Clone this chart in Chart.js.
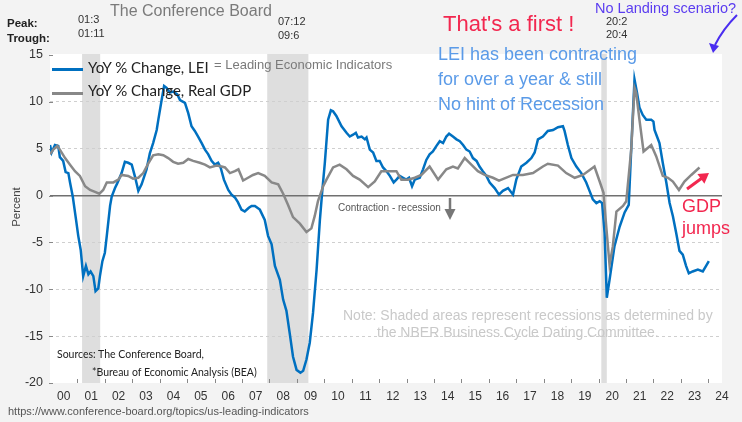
<!DOCTYPE html>
<html>
<head>
<meta charset="utf-8">
<script src="https://cdn.jsdelivr.net/npm/chart.js@4.4.1/dist/chart.umd.min.js"></script>
<style>
  body { margin: 0; background: #f3f3f3; }
  #wrap { position: relative; width: 742px; height: 422px; overflow: hidden; font-family: "Liberation Sans", Arial, sans-serif; }
  #wrap canvas { position: absolute; left: 0; top: 0; }
  .t { position: absolute; white-space: nowrap; line-height: 1; }
  .cal { font-family: Lato, "Open Sans", sans-serif; }
  .key { position: absolute; left: 52px; width: 31px; height: 3px; }
  svg { position: absolute; left: 0; top: 0; pointer-events: none; }
</style>
</head>
<body>
<div id="wrap">
  <canvas id="chart" width="742" height="422"></canvas>

  <div class="t" style="left:110px;top:3px;font-size:16px;color:#7a7a7a">The Conference Board</div>
  <div class="t" style="left:7px;top:18px;font-size:11.5px;font-weight:bold;color:#222">Peak:</div>
  <div class="t" style="left:7px;top:33px;font-size:11.5px;font-weight:bold;color:#222">Trough:</div>
  <div class="t" style="left:78px;top:13.5px;font-size:11px;color:#333">01:3</div>
  <div class="t" style="left:78px;top:28px;font-size:11px;color:#333">01:11</div>
  <div class="t" style="left:278px;top:15.5px;font-size:11px;color:#333">07:12</div>
  <div class="t" style="left:278px;top:29.5px;font-size:11px;color:#333">09:6</div>
  <div class="t" style="left:606px;top:15.5px;font-size:11px;color:#333">20:2</div>
  <div class="t" style="left:606px;top:28.5px;font-size:11px;color:#333">20:4</div>

  <div class="t" style="left:443px;top:13px;font-size:22px;color:#f2274f">That's a first !</div>
  <div class="t" style="left:438px;top:44.5px;font-size:18px;color:#5b9be8">LEI has been contracting</div>
  <div class="t" style="left:438px;top:69.5px;font-size:18px;color:#5b9be8">for over a year &amp; still</div>
  <div class="t" style="left:438px;top:94.5px;font-size:18px;color:#5b9be8">No hint of Recession</div>
  <div class="t" style="left:595px;top:0.5px;font-size:14.5px;color:#5a3cf0">No Landing scenario?</div>

  <div class="key" style="top:68px;background:#0070c0"></div>
  <div class="t cal" style="left:88px;top:59.5px;font-size:15px;color:#222">YoY % Change, LEI</div>
  <div class="key" style="top:92px;background:#888"></div>
  <div class="t cal" style="left:88px;top:82.5px;font-size:15px;color:#222">YoY % Change, Real GDP</div>
  <div class="t" style="left:214px;top:58px;font-size:13px;color:#7a7a7a">= Leading Economic Indicators</div>

  <div class="t" style="left:338px;top:203px;font-size:10px;color:#555">Contraction - recession</div>
  <div class="t" style="left:682px;top:196.5px;font-size:18px;color:#f2274f">GDP</div>
  <div class="t" style="left:682px;top:219px;font-size:18px;color:#f2274f">jumps</div>

  <div class="t" style="left:343px;top:307.5px;font-size:14px;color:#c9c9c9">Note: Shaded areas represent recessions as determined by</div>
  <div class="t" style="left:377px;top:324.5px;font-size:14px;color:#c9c9c9">the NBER Business Cycle Dating Committee.</div>

  <div class="t cal" style="left:57px;top:349px;font-size:10.5px;color:#222">Sources: The Conference Board,</div>
  <div class="t cal" style="left:92px;top:367px;font-size:10.5px;color:#222">*Bureau of Economic Analysis (BEA)</div>
  <div class="t" style="left:8px;top:405.5px;font-size:11px;color:#555">https://www.conference-board.org/topics/us-leading-indicators</div>
  <div class="t" style="left:17px;top:207px;transform:translate(-50%,-50%) rotate(-90deg);font-size:11.5px;color:#444">Percent</div>

  <svg width="742" height="422">
    <path d="M737,15 Q723,29 715,45" fill="none" stroke="#4a2df0" stroke-width="2"/>
    <polygon points="713,53 709,43 719,46" fill="#4a2df0"/>
    <line x1="687" y1="189" x2="702" y2="178" stroke="#f2274f" stroke-width="3"/>
    <polygon points="709,173 704.4,183.8 697.4,174" fill="#f2274f"/>
    <line x1="450" y1="198" x2="450" y2="211" stroke="#777" stroke-width="2.5"/>
    <polygon points="450,220 444.5,209 455.5,209" fill="#777"/>
  </svg>
</div>

<script>
// YoY % change, LEI (decimal year, percent)
const leiT = [2000.00, 2000.06, 2000.18, 2000.30, 2000.36, 2000.48, 2000.57, 2000.67, 2000.73, 2000.83,
  2000.95, 2001.03, 2001.12, 2001.21, 2001.31, 2001.40, 2001.48, 2001.58, 2001.66, 2001.76,
  2001.82, 2001.91, 2002.00, 2002.07, 2002.19, 2002.25, 2002.37, 2002.45, 2002.61, 2002.73,
  2002.85, 2002.98, 2003.10, 2003.22, 2003.34, 2003.52, 2003.64, 2003.76, 2003.89, 2003.95,
  2004.07, 2004.16, 2004.25, 2004.37, 2004.49, 2004.64, 2004.74, 2004.92, 2005.04, 2005.16,
  2005.28, 2005.40, 2005.53, 2005.65, 2005.77, 2005.89, 2006.01, 2006.13, 2006.22, 2006.34,
  2006.50, 2006.62, 2006.74, 2006.85, 2006.98, 2007.10, 2007.25, 2007.35, 2007.47, 2007.65,
  2007.83, 2007.95, 2008.08, 2008.20, 2008.38, 2008.50, 2008.62, 2008.74, 2008.86, 2008.99,
  2009.13, 2009.23, 2009.35, 2009.47, 2009.59, 2009.72, 2009.84, 2009.93, 2010.02, 2010.14,
  2010.24, 2010.32, 2010.44, 2010.63, 2010.81, 2010.93, 2011.05, 2011.15, 2011.23, 2011.36,
  2011.48, 2011.54, 2011.66, 2011.78, 2011.90, 2012.02, 2012.14, 2012.27, 2012.39, 2012.53,
  2012.63, 2012.75, 2012.87, 2012.99, 2013.09, 2013.20, 2013.30, 2013.48, 2013.60, 2013.72,
  2013.84, 2013.96, 2014.09, 2014.21, 2014.33, 2014.45, 2014.55, 2014.69, 2014.82, 2014.94,
  2015.06, 2015.18, 2015.30, 2015.42, 2015.55, 2015.66, 2015.78, 2015.91, 2016.03, 2016.21,
  2016.37, 2016.51, 2016.70, 2016.88, 2017.00, 2017.18, 2017.37, 2017.55, 2017.67, 2017.79,
  2017.97, 2018.15, 2018.34, 2018.52, 2018.70, 2018.76, 2018.88, 2019.01, 2019.19, 2019.37,
  2019.55, 2019.67, 2019.79, 2019.92, 2020.04, 2020.13, 2020.22, 2020.30, 2020.40, 2020.58,
  2020.77, 2020.95, 2021.10, 2021.19, 2021.31, 2021.40, 2021.49, 2021.61, 2021.74, 2021.92,
  2022.00, 2022.04, 2022.13, 2022.22, 2022.34, 2022.47, 2022.59, 2022.71, 2022.83, 2022.95,
  2023.07, 2023.19, 2023.29, 2023.43, 2023.62, 2023.80, 2023.92, 2024.02];
const leiV = [5.4, 4.6, 5.4, 5.3, 4.1, 3.7, 2.5, 2.4, 1.4, -0.1,
  -2.6, -4.3, -5.8, -8.6, -7.5, -8.4, -8.1, -8.6, -10.2, -9.9,
  -8.6, -7.0, -6.1, -4.3, -1.1, -0.1, 0.8, 1.3, 2.4, 3.6,
  3.5, 3.3, 2.0, 0.5, 1.2, 2.8, 4.5, 5.6, 7.0, 8.1,
  10.2, 11.7, 11.5, 11.0, 11.1, 10.8, 10.2, 9.9, 8.8, 7.4,
  6.9, 6.3, 5.6, 4.9, 4.4, 3.7, 3.3, 3.5, 3.0, 1.7,
  0.6, 0.1, -0.2, -0.7, -1.5, -1.7, -1.3, -1.1, -1.1, -1.5,
  -2.6, -4.3, -5.2, -7.5, -9.0, -11.1, -12.3, -14.7, -17.2, -18.6,
  -18.9, -18.7, -17.5, -15.7, -12.5, -7.9, -2.6, 0.6, 3.5, 8.1,
  9.1, 9.0, 8.5, 7.4, 6.7, 6.3, 6.5, 6.7, 6.2, 6.3,
  6.0, 6.2, 4.9, 4.6, 3.7, 3.7, 3.0, 2.6, 2.1, 1.4,
  1.7, 2.1, 1.9, 1.7, 1.9, 1.0, 1.7, 1.9, 2.8, 3.8,
  4.4, 4.7, 5.3, 5.8, 5.6, 6.3, 6.6, 6.3, 6.0, 5.8,
  5.4, 4.9, 4.7, 4.0, 3.7, 3.1, 2.6, 2.1, 1.4, 0.8,
  0.1, 0.5, 0.8, 0.1, 1.7, 3.1, 3.5, 4.0, 4.6, 6.0,
  6.3, 6.9, 7.0, 7.3, 7.4, 6.9, 5.4, 4.0, 3.1, 2.4,
  1.4, 0.5, -0.4, -0.8, -0.6, -0.8, -4.0, -10.9, -9.0, -5.4,
  -3.3, -1.8, -1.0, 4.9, 12.4, 11.0, 9.4, 8.6, 8.1, 8.1,
  7.9, 7.0, 6.3, 5.6, 3.5, 1.4, -0.8, -2.2, -4.0, -5.9,
  -6.3, -7.5, -8.3, -8.1, -7.9, -8.1, -7.5, -7.0];

// YoY % change, real GDP
const gdpT = [2000.00, 2000.12, 2000.27, 2000.36, 2000.55, 2000.73, 2000.91, 2001.09, 2001.28, 2001.46,
  2001.64, 2001.80, 2001.94, 2002.07, 2002.31, 2002.49, 2002.61, 2002.85, 2003.03, 2003.22,
  2003.40, 2003.58, 2003.76, 2003.95, 2004.13, 2004.31, 2004.49, 2004.67, 2004.86, 2005.04,
  2005.22, 2005.46, 2005.65, 2005.83, 2006.07, 2006.26, 2006.38, 2006.56, 2006.74, 2006.87,
  2007.04, 2007.22, 2007.40, 2007.59, 2007.83, 2008.08, 2008.32, 2008.50, 2008.68, 2008.86,
  2009.11, 2009.35, 2009.53, 2009.65, 2009.77, 2009.96, 2010.08, 2010.32, 2010.56, 2010.81,
  2011.05, 2011.29, 2011.60, 2011.84, 2012.08, 2012.32, 2012.63, 2012.81, 2013.05, 2013.30,
  2013.54, 2013.84, 2014.15, 2014.45, 2014.69, 2014.87, 2015.12, 2015.36, 2015.60, 2015.85,
  2016.15, 2016.37, 2016.88, 2017.24, 2017.61, 2017.97, 2018.15, 2018.52, 2018.82, 2019.13,
  2019.43, 2019.85, 2020.04, 2020.18, 2020.28, 2020.40, 2020.52, 2020.65, 2020.89, 2021.01,
  2021.19, 2021.31, 2021.37, 2021.49, 2021.64, 2021.92, 2022.10, 2022.34, 2022.53, 2022.71,
  2022.93, 2023.13, 2023.38, 2023.68];
const gdpV = [4.4, 4.9, 5.3, 4.9, 4.0, 3.3, 2.6, 2.1, 1.0, 0.6,
  0.4, 0.2, 0.6, 1.4, 1.4, 1.7, 2.2, 2.1, 1.8, 1.9,
  2.4, 3.4, 4.3, 4.4, 4.3, 4.0, 3.6, 3.4, 3.5, 3.9,
  3.7, 3.5, 3.3, 3.0, 3.2, 3.1, 3.0, 2.4, 2.6, 2.8,
  1.6, 1.9, 2.2, 2.4, 2.1, 1.4, 1.2, 0.2, -1.0, -2.3,
  -3.0, -3.9, -3.5, -2.2, -0.6, 1.0, 1.7, 3.0, 3.3, 2.8,
  2.1, 1.7, 0.9, 1.5, 2.6, 2.6, 2.6, 1.7, 1.7, 1.9,
  2.2, 3.1, 1.7, 2.8, 3.1, 2.9, 4.0, 3.3, 2.6, 2.2,
  1.9, 1.6, 2.2, 2.2, 2.4, 3.1, 3.4, 3.2, 2.4, 1.9,
  2.2, 3.1, 1.5, 0.3, -3.3, -7.4, -5.4, -1.7, -1.1, -0.6,
  4.9, 11.5, 11.0, 8.1, 4.7, 5.4, 4.2, 2.1, 1.9, 1.5,
  0.6, 1.5, 2.2, 3.0];

// NBER recessions (peak, trough) as decimal years
const recStart = [2001.17, 2007.92, 2020.10];
const recEnd = [2001.83, 2009.42, 2020.30];

const xLabels = ['00', '01', '02', '03', '04', '05', '06', '07', '08', '09', '10', '11', '12',
  '13', '14', '15', '16', '17', '18', '19', '20', '21', '22', '23', '24'];
const yTicks = [15, 10, 5, 0, -5, -10, -15, -20];

const backdrop = {
  id: 'backdrop',
  beforeDraw(chart) {
    const { ctx, chartArea: a, scales: { x } } = chart;
    ctx.save();
    ctx.fillStyle = '#f3f3f3';
    ctx.fillRect(0, 0, chart.width, chart.height);
    ctx.fillStyle = '#ffffff';
    ctx.fillRect(a.left, a.top - 1, a.right - a.left, a.bottom - a.top + 1);
    // recession bands
    ctx.fillStyle = '#dedede';
    recStart.forEach(function(s, i) {
      const x0 = x.getPixelForValue(s);
      const x1 = x.getPixelForValue(recEnd[i]);
      ctx.fillRect(x0, a.top - 1, x1 - x0, a.bottom - a.top + 1);
    });
    ctx.restore();
  },
  beforeDatasetsDraw(chart) {
    const { ctx, chartArea: a, scales: { x, y } } = chart;
    ctx.save();
    ctx.strokeStyle = '#888';
    ctx.lineWidth = 1;
    // small year ticks pointing up from the bottom edge
    for (let i = 1; i < xLabels.length; i++) {
      const px = Math.round(x.getPixelForValue(2000 + i)) + 0.5;
      ctx.beginPath();
      ctx.moveTo(px, a.bottom - 4);
      ctx.lineTo(px, a.bottom);
      ctx.stroke();
    }
    // little dashes next to the value labels
    yTicks.forEach(function(v) {
      const py = Math.round(y.getPixelForValue(v)) + 0.5;
      ctx.beginPath();
      ctx.moveTo(a.left - 1, py);
      ctx.lineTo(a.left + 3, py);
      ctx.stroke();
    });
    ctx.restore();
  }
};

new Chart(document.getElementById('chart'), {
  type: 'line',
  data: {
    datasets: [
      {
        label: 'YoY % Change, LEI',
        data: leiT.map((t, i) => ({ x: t, y: leiV[i] })),
        borderColor: '#0070c0',
        borderWidth: 2.5,
        pointRadius: 0,
        tension: 0,
        order: 2
      },
      {
        label: 'YoY % Change, Real GDP',
        data: gdpT.map((t, i) => ({ x: t, y: gdpV[i] })),
        borderColor: '#888888',
        borderWidth: 2.5,
        pointRadius: 0,
        tension: 0,
        order: 1
      }
    ]
  },
  options: {
    responsive: false,
    animation: false,
    layout: { padding: { top: 55, right: 20, bottom: 0, left: 0 } },
    plugins: { legend: { display: false }, tooltip: { enabled: false } },
    scales: {
      x: {
        type: 'linear',
        min: 2000,
        max: 2024.5,
        grid: { display: false, drawTicks: false },
        border: { display: false },
        afterBuildTicks: s => { s.ticks = xLabels.map((l, i) => ({ value: 2000.5 + i })); },
        afterFit: s => { s.height = 39; },
        ticks: {
          autoSkip: false,
          maxRotation: 0,
          padding: 6,
          color: '#333',
          font: { family: '"Liberation Sans", Arial', size: 12 },
          callback: (v, i) => xLabels[i]
        }
      },
      y: {
        min: -20,
        max: 15,
        afterBuildTicks: s => { s.ticks = yTicks.map(v => ({ value: v })); },
        afterFit: s => { s.width = 50; },
        grid: {
          drawTicks: false,
          color: c => (c.tick.value === 15 || c.tick.value === -20) ? 'rgba(0,0,0,0)' : (c.tick.value === 0 ? '#707070' : '#cfcfcf'),
          lineWidth: c => c.tick.value === 0 ? 1.5 : 1
        },
        border: { display: false, dash: c => (c.tick && c.tick.value === 0) ? [] : [3, 3] },
        ticks: {
          padding: 7,
          color: '#333',
          font: { family: '"Liberation Sans", Arial', size: 12.5 }
        }
      }
    }
  },
  plugins: [backdrop]
});
</script>
</body>
</html>
